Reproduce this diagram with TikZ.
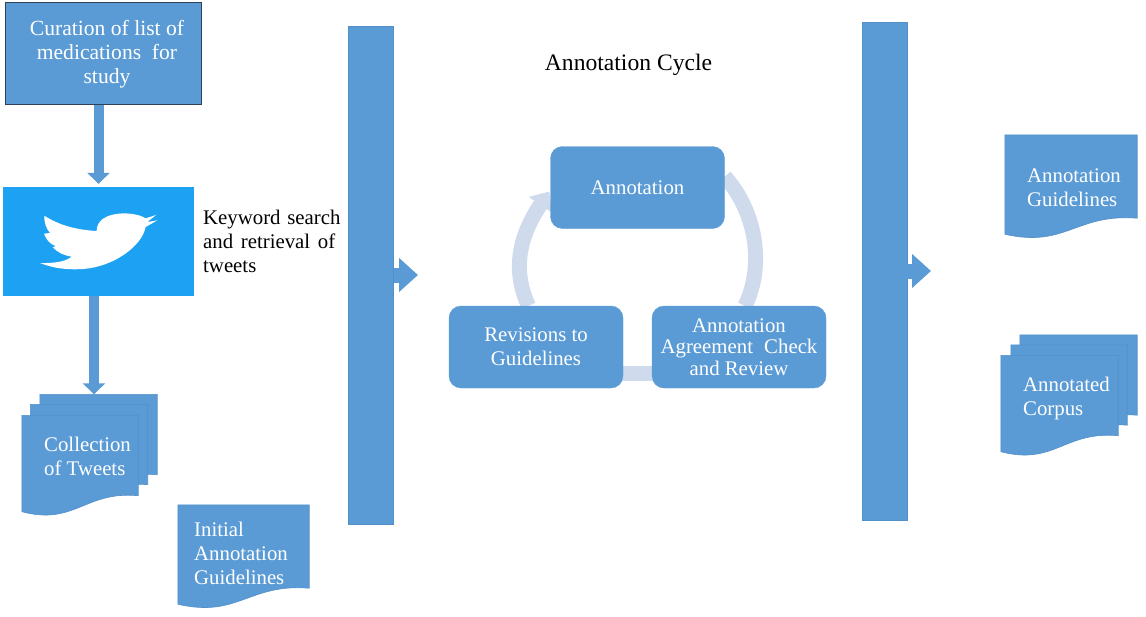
\documentclass[tikz,border=0pt]{standalone}
\usepackage{fontspec}
\setmainfont{Liberation Serif}
\usetikzlibrary{arrows.meta,calc,backgrounds}
\definecolor{boxblue}{HTML}{5B9BD5}
\definecolor{edgeblue}{HTML}{5290CA}
\definecolor{birdblue}{HTML}{1DA1F2}
\definecolor{ringblue}{HTML}{CFDBEC}
\definecolor{darkedge}{HTML}{2F4058}
\tikzset{
    txt/.style={font=\fontsize{20.8}{24}\selectfont, align=center, inner sep=0pt},
    whitetxt/.style={txt, text=white},
    leftwhite/.style={whitetxt, align=left, anchor=west},
    bar/.style={fill=boxblue, draw=edgeblue, line width=.6pt, minimum width=45pt, minimum height=498pt, inner sep=0pt},
    stagebox/.style={whitetxt, fill=boxblue, draw=boxblue, rounded corners=12pt, minimum width=174pt, minimum height=82pt},
    docnode/.style={minimum width=#1, minimum height=80pt, inner sep=0pt},
    docpage/.style={fill=boxblue, draw=edgeblue, line width=.6pt},
    downarrow/.style={draw=boxblue, line width=10pt, -{Triangle[width=22pt,length=11pt]}},
    rightarrow/.style={draw=boxblue, line width=15pt, -{Triangle[width=33pt,length=19pt]}},
    ringline/.style={draw=ringblue, line width=15pt}
}
\newcommand{\docpath}[1]{\path[docpage] (#1.north west) -- (#1.north east) -- (#1.south east)
    .. controls ($(#1.south)+(5,-5)$) and ($(#1.south)+(-5,30)$) .. ($(#1.south west)+(0,16)$) -- cycle;}
\begin{document}
\begin{tikzpicture}[x=1pt,y=-1pt]
        \useasboundingbox (0,0) rectangle (1146,616);

        \node[fill=boxblue, draw=darkedge, line width=1pt, minimum width=196pt, minimum height=102pt] (curation) at (103,53) {};
        \node[whitetxt, font=\fontsize{21.6}{24}\selectfont] (curationtxt) at (107,54)
            {Curation of list of\\medications\ \ for\\study};
        \node[fill=birdblue, minimum width=191pt, minimum height=109pt, inner sep=0pt] (twitter) at (98.5,241.5) {};
        \node[txt, align=left, anchor=north west] (keyword) at (203,209.5)
            {Keyword\hspace{1.5pt} search\\and\hspace{2.5pt} retrieval\hspace{2.5pt} of\\tweets};

        \begin{scope}[shift={(30,205)},x=.3333pt,y=-.3333pt]
            \fill[white] (378,30) -- (347,40) .. controls (320,22) and (250,18) .. (218,42)
                .. controls (205,52) and (200,65) .. (200,78)
                .. controls (140,75) and (85,60) .. (43,32)
                .. controls (42,55) and (50,72) .. (60,84) -- (42,86)
                .. controls (48,105) and (62,118) .. (78,124) -- (68,126)
                .. controls (85,145) and (105,152) .. (125,155)
                .. controls (105,172) and (65,175) .. (30,174)
                .. controls (70,190) and (110,195) .. (160,192)
                .. controls (250,185) and (335,125) .. (347,66)
                -- (382,46) -- (352,51) -- cycle;
        \end{scope}

        \node[docnode=117pt] (tweetsback) at (98.5,434.5) {};
        \node[docnode=117pt] (tweetsmid) at (89,444.5) {};
        \node[docnode=116pt] (tweets) at (80,455.5) {};
        \docpath{tweetsback}
        \docpath{tweetsmid}
        \docpath{tweets}
        \node[leftwhite] (tweetstxt) at (44,456) {Collection\\of Tweets};

        \node[docnode=131pt, minimum height=83pt] (initial) at (243.5,546.5) {};
        \docpath{initial}
        \node[leftwhite] (initialtxt) at (194,553.5) {Initial\\Annotation\\Guidelines};

        \draw[downarrow, shorten >=3pt] (curation.south -| twitter.north) -- (twitter.north);
        \draw[downarrow] ([xshift=-4.5pt]twitter.south) -- ([xshift=-4.5pt]tweetsback.north);

        \node[bar] (leftbar) at (371,275) {};
        \node[bar] (rightbar) at (884.5,271) {};
        \coordinate (lefttip) at (418,275);
        \coordinate (righttip) at (931,271);
        \draw[rightarrow] (leftbar.east) -- (lefttip);
        \draw[rightarrow] (rightbar.east) -- (righttip);

        \node[txt, font=\fontsize{23.6}{28}\selectfont] (title) at (628.5,65) {Annotation Cycle};

        \node[stagebox] (annotation) at (637.5,187.5) {Annotation};
        \node[stagebox] (revisions) at (536,347) {Revisions to\\Guidelines};
        \node[stagebox, font=\fontsize{20.8}{21.5}\selectfont] (agreement) at (739,347) {Annotation\\Agreement\hspace{6pt} Check\\and Review};

        \begin{pgfonlayer}{background}
            \draw[ringline] ([yshift=11pt]annotation.east) to[out=-48,in=64,looseness=.9] ([xshift=6pt]agreement.north);
            \draw[ringline] ([yshift=-26pt]agreement.west) -- ([yshift=-26pt]revisions.east);
            \draw[ringline, -{Triangle[width=27pt,length=16pt]}] ([xshift=-7.5pt]revisions.north) to[out=115,in=236] ([xshift=-1pt,yshift=-4pt]annotation.west);
        \end{pgfonlayer}

        \node[docnode=132pt, minimum height=83pt] (guidelines) at (1071,176.5) {};
        \docpath{guidelines}
        \node[leftwhite] (guidelinestxt) at (1027,188) {Annotation\\Guidelines};

        \node[docnode=117pt] (corpusback) at (1078.5,375) {};
        \node[docnode=116pt] (corpusmid) at (1069,385) {};
        \node[docnode=117pt] (corpus) at (1059.5,395.5) {};
        \docpath{corpusback}
        \docpath{corpusmid}
        \docpath{corpus}
        \node[leftwhite] (corpustxt) at (1023,398) {Annotated\\Corpus};
    \end{tikzpicture}
\end{document}
